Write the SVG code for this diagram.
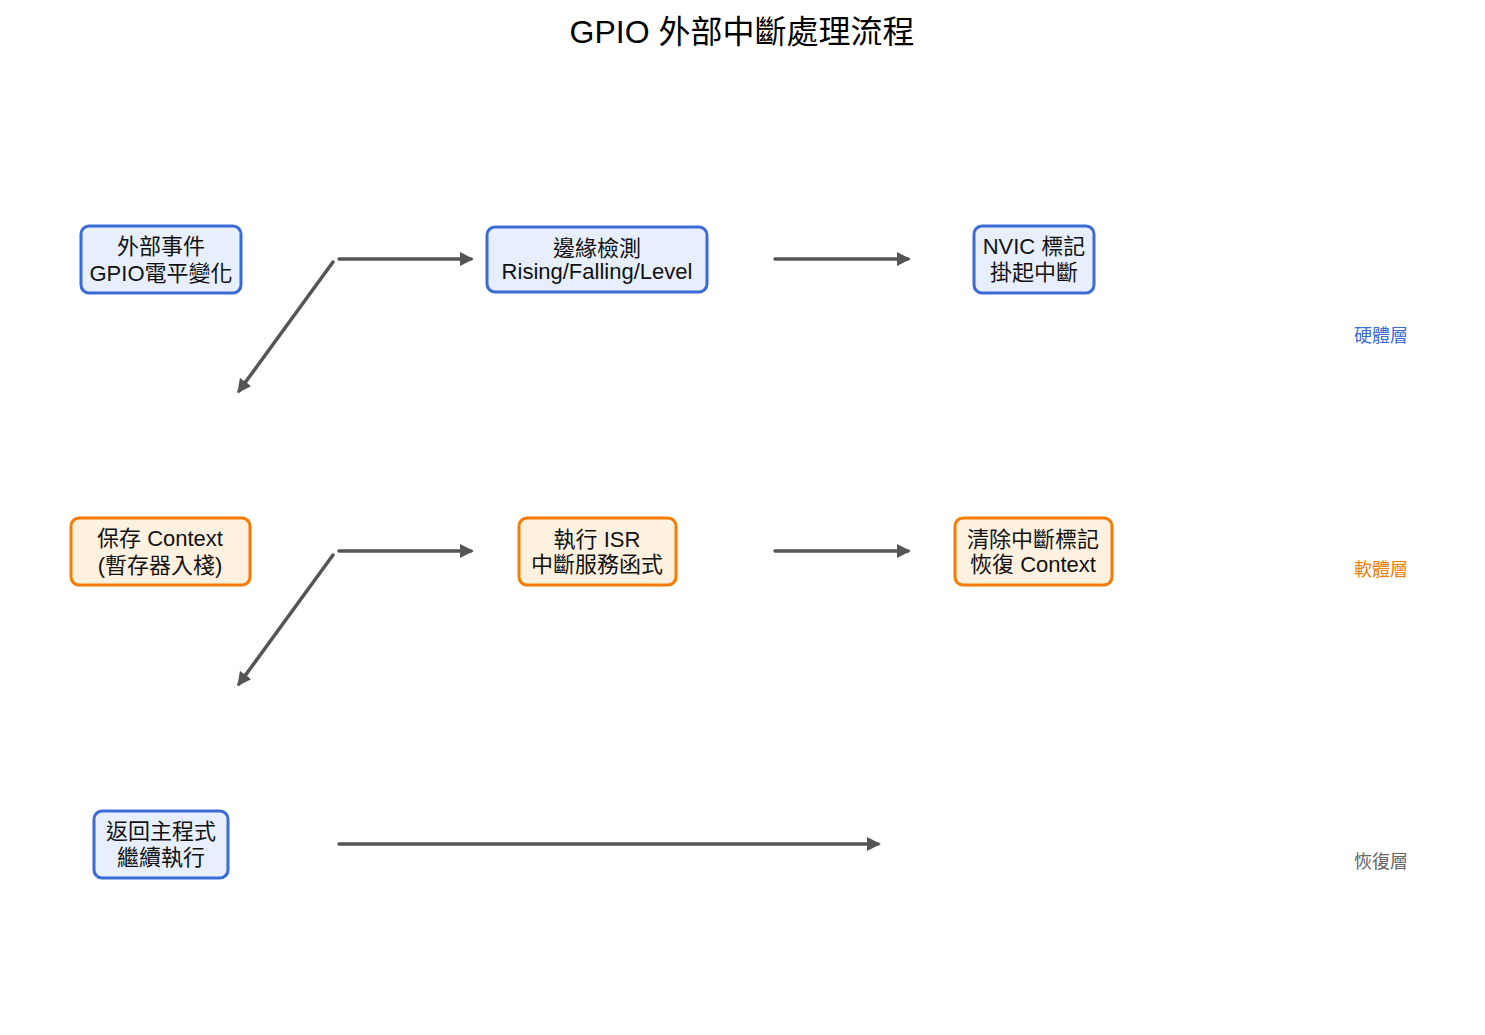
<svg xmlns="http://www.w3.org/2000/svg" width="1485" height="1035" viewBox="0 0 1485 1035">
<defs>
<style>
text{font-family:"Liberation Sans","Noto Sans CJK TC",sans-serif;}
.t{font-size:22px;fill:#111;text-anchor:middle;}
.title{font-size:32px;fill:#000;text-anchor:middle;}
.hw rect{fill:#e8effc;stroke:#3a6bd6;stroke-width:3;}
.sw rect{fill:#fff1e0;stroke:#f57c00;stroke-width:3;}
.c line{stroke:#555;stroke-width:3.5;stroke-linecap:round;fill:none;}
.lab{font-size:18px;text-anchor:middle;}
</style>
<marker id="ah" viewBox="0 0 10 10" refX="8" refY="5" markerWidth="4" markerHeight="4" orient="auto" markerUnits="strokeWidth">
<path d="M0,0 L10,5 L0,10 z" fill="#555"/>
</marker>
</defs>
<rect width="1485" height="1035" fill="#fff"/>
<text class="title" x="742" y="43">GPIO 外部中斷處理流程</text>

<g class="c">
<line x1="339" y1="259" x2="471" y2="259" marker-end="url(#ah)"/>
<line x1="775" y1="259" x2="908" y2="259" marker-end="url(#ah)"/>
<line x1="333" y1="262" x2="239" y2="391" marker-end="url(#ah)"/>
<line x1="339" y1="551" x2="471" y2="551" marker-end="url(#ah)"/>
<line x1="775" y1="551" x2="908" y2="551" marker-end="url(#ah)"/>
<line x1="333" y1="555" x2="239" y2="684" marker-end="url(#ah)"/>
<line x1="339" y1="844" x2="878" y2="844" marker-end="url(#ah)"/>
</g>

<g id="n1" class="hw"><rect x="81" y="226" width="160" height="67" rx="8"/>
<text class="t" x="161" y="254">外部事件</text><text class="t" x="161" y="281">GPIO電平變化</text></g>
<g id="n2" class="hw"><rect x="487" y="227" width="220" height="65" rx="8"/>
<text class="t" x="597" y="256">邊緣檢測</text><text class="t" x="597" y="279">Rising/Falling/Level</text></g>
<g id="n3" class="hw"><rect x="974" y="226" width="120" height="67" rx="8"/>
<text class="t" x="1034" y="254">NVIC 標記</text><text class="t" x="1034" y="280">掛起中斷</text></g>
<g id="n4" class="sw"><rect x="71" y="518" width="179" height="67" rx="8"/>
<text class="t" x="160" y="546">保存 Context</text><text class="t" x="160" y="573">(暫存器入棧)</text></g>
<g id="n5" class="sw"><rect x="519" y="518" width="157" height="67" rx="8"/>
<text class="t" x="597" y="547">執行 ISR</text><text class="t" x="597" y="572">中斷服務函式</text></g>
<g id="n6" class="sw"><rect x="955" y="518" width="157" height="67" rx="8"/>
<text class="t" x="1033" y="547">清除中斷標記</text><text class="t" x="1033" y="572">恢復 Context</text></g>
<g id="n7" class="hw"><rect x="94" y="811" width="134" height="67" rx="8"/>
<text class="t" x="161" y="839">返回主程式</text><text class="t" x="161" y="865">繼續執行</text></g>

<text class="lab" x="1381" y="342" fill="#3a6bd6">硬體層</text>
<text class="lab" x="1381" y="576" fill="#f57c00">軟體層</text>
<text class="lab" x="1381" y="868" fill="#666">恢復層</text>
</svg>
